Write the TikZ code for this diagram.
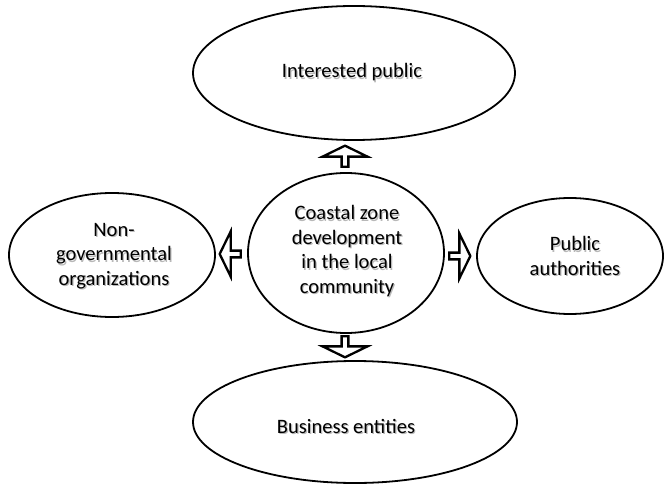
\documentclass[tikz,border=0pt]{standalone}
\usepackage{fontspec}
\setmainfont{Carlito}
\usetikzlibrary{shapes.geometric,shapes.arrows}
\newcommand{\sh}[1]{\leavevmode\rlap{\raisebox{-1.6pt}[0pt][0pt]{\hspace{1.2pt}\textcolor{black!28}{#1}}}#1}
\begin{document}
\begin{tikzpicture}[x=1pt,y=1pt,
  oval/.style={ellipse, draw=black, line width=1.8pt, inner sep=0pt},
  lbl/.style={align=center, font=\fontsize{20.5}{24.5}\selectfont, inner sep=0pt},
  barrow/.style={single arrow, draw=black, line width=2.3pt, fill=white, inner sep=0pt,
    minimum height=21pt, minimum width=45pt, single arrow head extend=6.5pt,
    single arrow tip angle=128, shape border uses incircle=false}]
\useasboundingbox (0,0) rectangle (668,488);
\node[oval, minimum width=322pt, minimum height=134pt] (top) at (354,415) {};
\node[oval, minimum width=196pt, minimum height=160pt] (mid) at (346,235) {};
\node[oval, minimum width=206pt, minimum height=124pt] (left) at (112,233) {};
\node[oval, minimum width=186pt, minimum height=116pt] (right) at (570,232) {};
\node[oval, minimum width=324pt, minimum height=122pt] (bot) at (355,66) {};
\node[lbl] (toptxt) at (352,416) {\sh{Interested public}};
\node[lbl] (midtxt) at (347,237) {\sh{Coastal zone}\\\sh{development}\\\sh{in the local}\\\sh{community}};
\node[lbl] (lefttxt) at (114,232) {\sh{Non-}\\\sh{governmental}\\\sh{organizations}};
\node[lbl] (righttxt) at (575,232) {\sh{Public}\\\sh{authorities}};
\node[lbl] (bottxt) at (346,62) {\sh{Business entities}};
\node[barrow, rotate=90] (aup) at (345,331) {};
\node[barrow, rotate=-90] (adown) at (345,142) {};
\node[barrow, rotate=180] (aleft) at (231,234) {};
\node[barrow] (aright) at (459,232) {};
\end{tikzpicture}
\end{document}
